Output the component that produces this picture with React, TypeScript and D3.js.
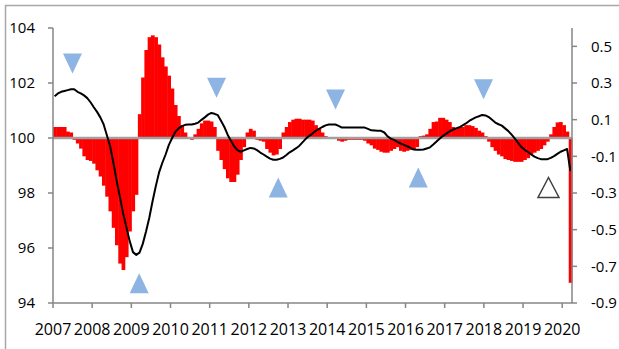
import React from "react";
import * as d3 from "d3";

// ---- data (monthly, Jan 2007 .. Mar 2020) ----
const years = [2007, 2008, 2009, 2010, 2011, 2012, 2013, 2014, 2015, 2016, 2017, 2018, 2019, 2020];
const leftTicks = [94, 96, 98, 100, 102, 104];
const rightTicks = [-0.9, -0.7, -0.5, -0.3, -0.1, 0.1, 0.3, 0.5];

// change (right axis) – red columns
const changeValues = [
  0.06, 0.06, 0.06, 0.06, 0.035, 0.03, -0.01, -0.03, -0.058, -0.1,
  -0.12, -0.125, -0.14, -0.176, -0.21, -0.26, -0.32, -0.4, -0.49, -0.585,
  -0.685, -0.72, -0.65, -0.51, -0.4, -0.31, 0.13, 0.33, 0.48, 0.55,
  0.56, 0.55, 0.51, 0.44, 0.39, 0.34, 0.27, 0.18, 0.12, 0.07,
  0.03, 0.005, -0.01, 0.02, 0.05, 0.08, 0.095, 0.095, 0.09, 0.06,
  -0.07, -0.12, -0.17, -0.22, -0.24, -0.24, -0.2, -0.12, -0.05, 0.03,
  0.05, 0.04, -0.01, -0.015, -0.02, -0.06, -0.08, -0.095, -0.09, -0.06,
  0.03, 0.06, 0.087, 0.1, 0.105, 0.105, 0.1, 0.1, 0.1, 0.095,
  0.07, 0.05, 0.03, 0.01, 0.0, 0.0, -0.005, -0.015, -0.02, -0.015,
  -0.01, -0.01, -0.01, -0.01, -0.01, -0.015, -0.03, -0.04, -0.058, -0.065,
  -0.075, -0.08, -0.08, -0.07, -0.06, -0.05, -0.07, -0.075, -0.07, -0.065,
  -0.065, -0.05, 0.01, 0.013, 0.02, 0.05, 0.087, 0.09, 0.11, 0.11,
  0.1, 0.087, 0.06, 0.055, 0.055, 0.06, 0.07, 0.07, 0.065, 0.055,
  0.04, 0.03, 0.01, -0.02, -0.05, -0.07, -0.09, -0.1, -0.115, -0.12,
  -0.125, -0.13, -0.13, -0.13, -0.12, -0.11, -0.09, -0.08, -0.07, -0.06,
  -0.04, -0.02, 0.02, 0.06, 0.085, 0.087, 0.07, 0.035, -0.79,
];

// index (left axis) – black line
const indexValues = [
  101.52, 101.62, 101.68, 101.71, 101.74, 101.77, 101.77, 101.68, 101.62, 101.55,
  101.45, 101.3, 101.12, 100.95, 100.75, 100.5, 100.1, 99.7, 99.1, 98.45,
  97.85, 97.25, 96.75, 96.25, 95.85, 95.75, 95.83, 96.15, 96.6, 97.1,
  97.7, 98.25, 98.75, 99.1, 99.4, 99.75, 100.0, 100.23, 100.35, 100.43,
  100.48, 100.49, 100.49, 100.52, 100.56, 100.66, 100.75, 100.85, 100.91, 100.88,
  100.83, 100.62, 100.4, 100.12, 99.9, 99.7, 99.56, 99.5, 99.55, 99.6,
  99.64, 99.62, 99.56, 99.47, 99.4, 99.32, 99.25, 99.21, 99.21, 99.24,
  99.29, 99.38, 99.48, 99.55, 99.63, 99.72, 99.85, 99.98, 100.08, 100.16,
  100.26, 100.33, 100.4, 100.46, 100.49, 100.49, 100.49, 100.44, 100.38, 100.38,
  100.38, 100.38, 100.38, 100.38, 100.38, 100.38, 100.33, 100.28, 100.27, 100.26,
  100.26, 100.2, 100.06, 99.98, 99.93, 99.86, 99.8, 99.75, 99.7, 99.64,
  99.58, 99.57, 99.57, 99.58, 99.62, 99.66, 99.76, 99.87, 99.98, 100.08,
  100.16, 100.24, 100.3, 100.35, 100.39, 100.46, 100.53, 100.62, 100.69, 100.75,
  100.79, 100.84, 100.82, 100.76, 100.66, 100.56, 100.5, 100.45, 100.35, 100.25,
  100.12, 99.98, 99.82, 99.67, 99.57, 99.49, 99.4, 99.32, 99.27, 99.23,
  99.23, 99.23, 99.28, 99.34, 99.42, 99.5, 99.55, 99.6, 98.8,
];

// turning-point markers (month position, left-axis level)
const peakMonths = [5.47, 49.6, 86.05, 131.4];
const peakLevels = [102.71, 101.83, 101.4, 101.77];
const troughMonths = [25.9, 68.5, 111.4];
const troughLevels = [94.72, 98.2, 98.56];
const provisionalMonths = [151.3];
const provisionalLevels = [98.2];

const W = 619;
const H = 349;
const plotL = 53;
const plotR = 572;
const plotT = 28;
const plotB = 303;
const nMonths = changeValues.length;

export default function App() {
  const x = d3.scaleLinear().domain([0, nMonths]).range([plotL, plotR]);
  const yL = d3.scaleLinear().domain([94, 104]).range([plotB, plotT]);
  const yR = d3.scaleLinear().domain([-0.9, 0.6]).range([plotB, plotT]);
  const band = x(1) - x(0);

  const line = d3
    .line<number>()
    .x((_, i) => x(i + 0.5))
    .y((d) => yL(d))
    .curve(d3.curveLinear);

  const axisColor = "#868686";
  const font = "'Open Sans', 'Liberation Sans', sans-serif";
  const triColor = "#8DB4E2";

  const downTri = (cx: number, cy: number) =>
    `M${cx - 9.5},${cy - 10}L${cx + 9.5},${cy - 10}L${cx},${cy + 10}Z`;
  const upTri = (cx: number, cy: number, hw = 9.5, hh = 10) =>
    `M${cx - hw},${cy + hh}L${cx + hw},${cy + hh}L${cx},${cy - hh}Z`;

  return (
    <svg
      width={W}
      height={H}
      style={{ position: "fixed", left: 0, top: 0, background: "#fff" }}
      fontFamily={font}
    >
      <rect x={0} y={0} width={W} height={H} fill="#fff" />
      {/* outer frame */}
      <path d={`M5.5,${H}V5.5H${W}`} fill="none" stroke="#A6A6A6" strokeWidth={1.5} />

      {/* bars */}
      <g>
        {changeValues.map((v, i) => {
          const y0 = yR(0);
          const y1 = yR(v);
          return (
            <rect
              key={i}
              x={x(i)}
              width={band + 0.5}
              y={Math.min(y0, y1)}
              height={Math.abs(y1 - y0)}
              fill="#FF0000"
            />
          );
        })}
      </g>

      {/* 100 reference line */}
      <line x1={plotL} x2={plotR} y1={yL(100)} y2={yL(100)} stroke="#A0A0A0" strokeWidth={2.5} />

      {/* index line */}
      <path d={line(indexValues) || ""} fill="none" stroke="#000" strokeWidth={2} strokeLinejoin="round" />

      {/* markers */}
      {peakMonths.map((m, i) => (
        <path key={"p" + i} d={downTri(x(m + 0.5), yL(peakLevels[i]))} fill={triColor} />
      ))}
      {troughMonths.map((m, i) => (
        <path key={"t" + i} d={upTri(x(m + 0.5), yL(troughLevels[i]))} fill={triColor} />
      ))}
      {provisionalMonths.map((m, i) => (
        <path
          key={"o" + i}
          d={upTri(x(m + 0.5), yL(provisionalLevels[i]), 10.5, 10)}
          fill="#fff"
          stroke="#404040"
          strokeWidth={1.5}
        />
      ))}

      {/* left axis */}
      <line x1={plotL} x2={plotL} y1={plotT} y2={plotB} stroke={axisColor} strokeWidth={1.5} />
      {leftTicks.map((t) => (
        <g key={"l" + t}>
          <line x1={plotL - 5} x2={plotL} y1={yL(t)} y2={yL(t)} stroke={axisColor} strokeWidth={1.5} />
          <text x={35} y={yL(t)} dy="0.36em" textAnchor="end" fontSize={15} fill="#000">
            {t}
          </text>
        </g>
      ))}

      {/* right axis */}
      <line x1={plotR} x2={plotR} y1={plotT} y2={plotB} stroke={axisColor} strokeWidth={1.5} />
      {rightTicks.map((t) => (
        <g key={"r" + t}>
          <line x1={plotR} x2={plotR + 5} y1={yR(t)} y2={yR(t)} stroke={axisColor} strokeWidth={1.5} />
          <text x={591} y={yR(t)} dy="0.36em" textAnchor="start" fontSize={15} fill="#000">
            {d3.format(".1f")(t).replace("−", "-")}
          </text>
        </g>
      ))}

      {/* bottom axis */}
      <line x1={plotL} x2={plotR} y1={plotB} y2={plotB} stroke={axisColor} strokeWidth={1.5} />
      {years.map((yr) => {
        const xx = x((yr - 2007) * 12);
        return (
          <g key={yr}>
            <line x1={xx} x2={xx} y1={plotB} y2={plotB + 5} stroke={axisColor} strokeWidth={1.5} />
            <text x={xx} y={335} textAnchor="middle" fontSize={16} fill="#000">
              {yr}
            </text>
          </g>
        );
      })}
    </svg>
  );
}
